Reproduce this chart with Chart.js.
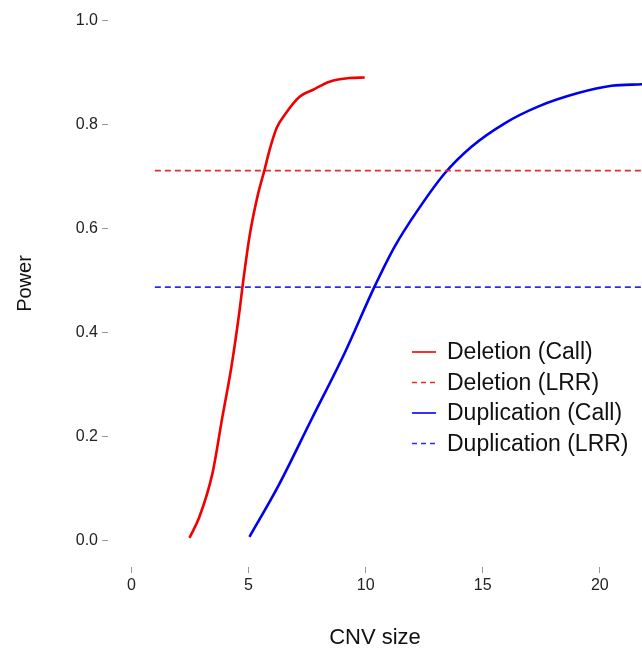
<!DOCTYPE html>
<html>
<head>
<meta charset="utf-8">
<script src="https://cdn.jsdelivr.net/npm/chart.js@4.4.1/dist/chart.umd.min.js"></script>
<style>
  html, body { margin: 0; padding: 0; background: #fff; overflow: hidden; }
  canvas { display: block; }
</style>
</head>
<body>
<canvas id="powerChart" width="642" height="651"></canvas>
<script>
// values
const seriesNames = ['Deletion (Call)', 'Deletion (LRR)', 'Duplication (Call)', 'Duplication (LRR)'];

const delSize = [2.48, 2.9, 3.46, 3.89, 4.27, 4.62, 4.74, 5.04, 5.38, 5.68, 5.9, 6.2, 6.54, 7.18, 7.74, 8.46, 9.32, 9.96];
const delCall = [0.006, 0.046, 0.13, 0.24, 0.335, 0.444, 0.488, 0.585, 0.662, 0.713, 0.752, 0.794, 0.819, 0.854, 0.867, 0.883, 0.890, 0.891];

const dupSize = [5.04, 6.25, 7.68, 9.1, 10.38, 11.24, 12.24, 13.38, 14.52, 15.94, 17.36, 19.07, 20.5, 21.8];
const dupCall = [0.008, 0.104, 0.233, 0.361, 0.489, 0.566, 0.637, 0.707, 0.758, 0.803, 0.835, 0.861, 0.875, 0.878];

const lrrSize = [1, 21.8];
const delLRR = [0.712, 0.712];
const dupLRR = [0.488, 0.488];

const xTicks = [0, 5, 10, 15, 20];
const yTicks = [0, 0.2, 0.4, 0.6, 0.8, 1.0];

const toPoints = (xs, ys) => xs.map((x, i) => ({ x: x, y: ys[i] }));

Chart.defaults.font.family = '"Liberation Sans", Arial, Helvetica, sans-serif';

// legend drawn inside the plot, like R's legend()
const insetLegend = {
    id: 'insetLegend',
    afterDatasetsDraw(chart) {
        const ctx = chart.ctx;
        ctx.save();
        ctx.font = '23px "Liberation Sans", Arial, sans-serif';
        ctx.textBaseline = 'middle';
        ctx.textAlign = 'left';
        chart.data.datasets.forEach((ds, i) => {
            const y = 352 + i * 30.5;
            ctx.strokeStyle = ds.borderColor;
            ctx.lineWidth = 1.6;
            ctx.setLineDash(ds.borderDash ? [5, 4] : []);
            ctx.beginPath();
            ctx.moveTo(412, y);
            ctx.lineTo(436, y);
            ctx.stroke();
            ctx.fillStyle = '#111';
            ctx.fillText(ds.label, 447, y + 1);
        });
        ctx.restore();
    }
};

const ctx = document.getElementById('powerChart');

new Chart(ctx, {
    type: 'line',
    data: {
        datasets: [{
                label: seriesNames[0],
                data: toPoints(delSize, delCall),
                borderColor: 'rgb(240, 0, 0)',
                borderWidth: 2.6,
                cubicInterpolationMode: 'monotone'
            }, {
                label: seriesNames[1],
                data: toPoints(lrrSize, delLRR),
                borderColor: 'rgb(225, 45, 50)',
                borderWidth: 1.8,
                borderDash: [6, 4]
            }, {
                label: seriesNames[2],
                data: toPoints(dupSize, dupCall),
                borderColor: 'rgb(0, 0, 240)',
                borderWidth: 2.6,
                cubicInterpolationMode: 'monotone'
            }, {
                label: seriesNames[3],
                data: toPoints(lrrSize, dupLRR),
                borderColor: 'rgb(45, 45, 230)',
                borderWidth: 1.8,
                borderDash: [6, 4]
            }]
    },
    options: {
        responsive: false,
        animation: false,
        elements: { point: { radius: 0 } },
        layout: { padding: 0 },
        plugins: {
            legend: { display: false },
            tooltip: { enabled: false }
        },
        scales: {
            x: {
                type: 'linear',
                min: -1,
                max: 21.8,
                afterBuildTicks: (s) => { s.ticks = xTicks.map(v => ({ value: v })); },
                afterFit: (s) => { s.height = 84; },
                border: { display: false },
                grid: { drawOnChartArea: false, drawTicks: true, tickLength: 6, color: '#999' },
                ticks: { font: { size: 16 }, color: '#222', padding: 3, maxRotation: 0 },
                title: {
                    display: true,
                    text: 'CNV size',
                    color: '#111',
                    font: { size: 22 },
                    padding: { top: 0, bottom: 0 }
                }
            },
            y: {
                min: -0.05,
                max: 1.04,
                afterBuildTicks: (s) => { s.ticks = yTicks.map(v => ({ value: v })); },
                afterFit: (s) => { s.width = 108; s.paddingTop = 0; s.paddingBottom = 0; },
                border: { display: false },
                grid: { drawOnChartArea: false, drawTicks: true, tickLength: 6, color: '#999' },
                ticks: {
                    font: { size: 16 },
                    color: '#222',
                    padding: 4,
                    callback: (v) => v.toFixed(1)
                },
                title: {
                    display: true,
                    text: 'Power',
                    color: '#111',
                    font: { size: 20 },
                    padding: { top: 13, bottom: 0 }
                }
            }
        }
    },
    plugins: [insetLegend]
});
</script>
</body>
</html>
